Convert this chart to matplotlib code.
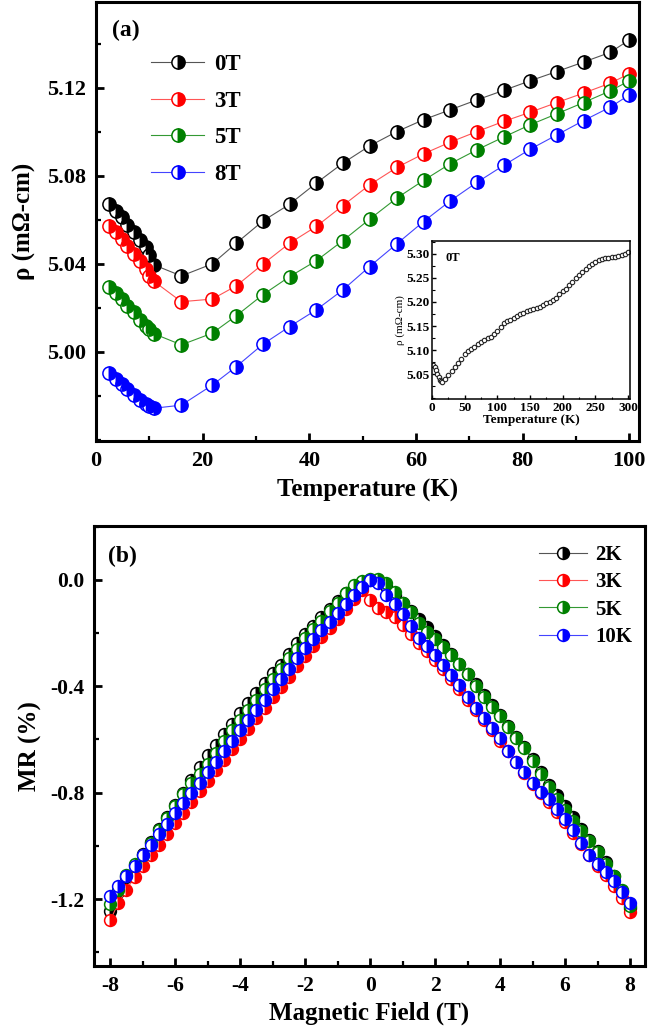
import numpy as np
import matplotlib
matplotlib.use('Agg')
import matplotlib.pyplot as plt
from matplotlib.ticker import MultipleLocator, FixedLocator, FormatStrFormatter

# ---- panel (a): resistivity vs temperature ----
temp_a = [2.4, 3.7, 4.8, 5.9, 7.1, 8.2, 9.3, 10.0, 10.9, 16.0, 21.8, 26.3, 31.3, 36.3,
          41.3, 46.3, 51.3, 56.4, 61.4, 66.4, 71.4, 76.4, 81.4, 86.4, 91.4, 96.4, 100.0]
rho_0T = [5.0673, 5.0642, 5.0612, 5.0577, 5.0544, 5.0509, 5.0476, 5.0440, 5.0395, 5.0345,
          5.0400, 5.0494, 5.0595, 5.0671, 5.0767, 5.0858, 5.0936, 5.1001, 5.1055, 5.1100,
          5.1145, 5.1188, 5.1232, 5.1274, 5.1317, 5.1361, 5.1418]
rho_3T = [5.0574, 5.0544, 5.0512, 5.0479, 5.0444, 5.0411, 5.0376, 5.0345, 5.0320, 5.0228,
          5.0240, 5.0300, 5.0399, 5.0494, 5.0570, 5.0665, 5.0759, 5.0838, 5.0900, 5.0953,
          5.1001, 5.1047, 5.1089, 5.1133, 5.1176, 5.1221, 5.1264]
rho_5T = [5.0294, 5.0267, 5.0241, 5.0209, 5.0179, 5.0145, 5.0118, 5.0103, 5.0082, 5.0032,
          5.0085, 5.0164, 5.0260, 5.0342, 5.0414, 5.0506, 5.0603, 5.0699, 5.0779, 5.0855,
          5.0918, 5.0976, 5.1032, 5.1082, 5.1133, 5.1186, 5.1232]
rho_8T = [4.9903, 4.9876, 4.9853, 4.9830, 4.9805, 4.9782, 4.9761, 4.9752, 4.9744, 4.9758,
          4.9849, 4.9933, 5.0035, 5.0115, 5.0191, 5.0282, 5.0388, 5.0491, 5.0592, 5.0686,
          5.0770, 5.0847, 5.0921, 5.0986, 5.1051, 5.1112, 5.1168]
labels_a = ['0T', '3T', '5T', '8T']
yticks_a = [5.00, 5.04, 5.08, 5.12]

# inset: 0T over the full range
temp_in = [2, 4, 6, 8, 10, 12, 14, 16, 20, 25, 30, 35, 40, 45, 50, 55, 60, 65, 70, 75, 80,
           85, 90, 95, 100, 105, 110, 115, 120, 125, 130, 135, 140, 145, 150, 155, 160, 165,
           170, 175, 180, 185, 190, 195, 200, 205, 210, 215, 220, 225, 230, 235, 240, 245,
           250, 255, 260, 265, 270, 275, 280, 285, 290, 295, 300]
rho_in = [5.068, 5.064, 5.058, 5.050, 5.043, 5.038, 5.035, 5.034, 5.040, 5.048, 5.056, 5.064,
          5.073, 5.082, 5.092, 5.098, 5.103, 5.107, 5.112, 5.116, 5.120, 5.124, 5.128, 5.133,
          5.140, 5.148, 5.156, 5.160, 5.163, 5.167, 5.171, 5.175, 5.178, 5.181, 5.183, 5.186,
          5.188, 5.190, 5.193, 5.197, 5.200, 5.204, 5.209, 5.216, 5.222, 5.228, 5.235, 5.242,
          5.249, 5.256, 5.263, 5.269, 5.274, 5.279, 5.284, 5.288, 5.290, 5.291, 5.292, 5.293,
          5.293, 5.295, 5.297, 5.300, 5.304]
yticks_in = [5.05, 5.10, 5.15, 5.20, 5.25, 5.30]

# ---- panel (b): magnetoresistance vs field ----
field = [-8.0, -7.75, -7.5, -7.25, -7.0, -6.75, -6.5, -6.25, -6.0, -5.75, -5.5, -5.25,
         -5.0, -4.75, -4.5, -4.25, -4.0, -3.75, -3.5, -3.25, -3.0, -2.75, -2.5, -2.25,
         -2.0, -1.75, -1.5, -1.25, -1.0, -0.75, -0.5, -0.25, 0.0,
         0.25, 0.5, 0.75, 1.0, 1.25, 1.5, 1.75, 2.0, 2.25, 2.5, 2.75, 3.0, 3.25, 3.5,
         3.75, 4.0, 4.25, 4.5, 4.75, 5.0, 5.25, 5.5, 5.75, 6.0, 6.25, 6.5, 6.75, 7.0,
         7.25, 7.5, 7.75, 8.0]
mr_2K = [-1.245, -1.175, -1.118, -1.072, -1.030, -0.985, -0.938, -0.892, -0.846, -0.800,
         -0.752, -0.705, -0.660, -0.620, -0.580, -0.540, -0.502, -0.464, -0.425, -0.388,
         -0.350, -0.318, -0.280, -0.236, -0.205, -0.172, -0.140, -0.108, -0.078, -0.050,
         -0.025, -0.008, 0.000,
         -0.005, -0.022, -0.055, -0.085, -0.115, -0.145, -0.178, -0.212, -0.245, -0.280,
         -0.315, -0.352, -0.392, -0.432, -0.470, -0.508, -0.548, -0.590, -0.630, -0.672,
         -0.722, -0.770, -0.810, -0.850, -0.892, -0.935, -0.978, -1.020, -1.060, -1.112,
         -1.170, -1.235]
mr_3K = [-1.280, -1.215, -1.165, -1.118, -1.075, -1.035, -0.995, -0.955, -0.915, -0.875,
         -0.835, -0.795, -0.755, -0.716, -0.676, -0.637, -0.598, -0.560, -0.520, -0.482,
         -0.442, -0.404, -0.365, -0.325, -0.286, -0.250, -0.215, -0.180, -0.145, -0.108,
         -0.070, -0.038, -0.075,
         -0.105, -0.122, -0.140, -0.170, -0.205, -0.238, -0.268, -0.300, -0.335, -0.372,
         -0.410, -0.450, -0.490, -0.528, -0.566, -0.605, -0.645, -0.686, -0.726, -0.766,
         -0.800, -0.835, -0.872, -0.910, -0.950, -0.992, -1.035, -1.075, -1.110, -1.150,
         -1.195, -1.250]
mr_5K = [-1.220, -1.165, -1.108, -1.070, -1.034, -0.988, -0.940, -0.896, -0.850, -0.805,
         -0.762, -0.728, -0.693, -0.650, -0.605, -0.566, -0.528, -0.490, -0.450, -0.410,
         -0.372, -0.334, -0.295, -0.258, -0.220, -0.186, -0.153, -0.118, -0.085, -0.050,
         -0.018, -0.002, 0.005,
         0.002, -0.012, -0.045, -0.085, -0.122, -0.160, -0.194, -0.222, -0.252, -0.283,
         -0.315, -0.355, -0.398, -0.441, -0.478, -0.510, -0.552, -0.594, -0.632, -0.680,
         -0.730, -0.778, -0.825, -0.866, -0.905, -0.944, -0.982, -1.025, -1.070, -1.115,
         -1.165, -1.228]
mr_10K = [-1.190, -1.152, -1.113, -1.075, -1.035, -0.996, -0.957, -0.918, -0.878, -0.840,
          -0.800, -0.762, -0.722, -0.684, -0.644, -0.606, -0.566, -0.528, -0.488, -0.450,
          -0.410, -0.372, -0.333, -0.295, -0.257, -0.222, -0.190, -0.158, -0.125, -0.092,
          -0.058, -0.025, 0.000,
          -0.010, -0.055, -0.092, -0.128, -0.175, -0.218, -0.248, -0.282, -0.320, -0.356,
          -0.396, -0.440, -0.480, -0.518, -0.555, -0.596, -0.642, -0.684, -0.724, -0.764,
          -0.797, -0.825, -0.860, -0.898, -0.940, -0.988, -1.035, -1.068, -1.098, -1.134,
          -1.172, -1.214]
labels_b = ['2K', '3K', '5K', '10K']

colors = ['#000000', '#FF0000', '#008000', '#0000FF']
line_colors = ['#555555', '#FF5555', '#339933', '#4444FF']

plt.rcParams['font.family'] = ['Liberation Serif', 'DejaVu Serif']
plt.rcParams['font.weight'] = 'bold'
plt.rcParams['axes.labelweight'] = 'bold'
plt.rcParams['axes.linewidth'] = 2.2
plt.rcParams['axes.unicode_minus'] = False

# half-filled circles: white on the left, coloured on the right
HALF = 'left'

fig = plt.figure(figsize=(6.49, 10.33), dpi=100)
ax1 = fig.add_axes([96 / 649, 1 - 441 / 1033, 543 / 649, 439 / 1033])
ax2 = fig.add_axes([94 / 649, 1 - 966 / 1033, 551 / 649, 440 / 1033])


def style_axis(ax, size):
    ax.tick_params(which='both', direction='in', top=False, right=False,
                   labelsize=size, pad=7)
    ax.tick_params(which='major', length=6, width=2)
    ax.tick_params(which='minor', length=3.5, width=1.6)
    for lab in ax.get_xticklabels() + ax.get_yticklabels():
        lab.set_fontweight('bold')


# panel (a)
for y, lab, c, lc in zip([rho_0T, rho_3T, rho_5T, rho_8T], labels_a, colors, line_colors):
    ax1.plot(temp_a, y, '-o', color=lc, lw=0.8, ms=9.5, mec=c, mfc='white',
             mfcalt=c, fillstyle=HALF, mew=1.1, label=lab)
ax1.set_xlim(0, 101.8)
ax1.set_ylim(4.9595, 5.159)
ax1.xaxis.set_major_locator(MultipleLocator(20))
ax1.xaxis.set_minor_locator(MultipleLocator(10))
ax1.yaxis.set_major_locator(FixedLocator(yticks_a))
ax1.yaxis.set_minor_locator(MultipleLocator(0.02))
ax1.yaxis.set_major_formatter(FormatStrFormatter('%.2f'))
style_axis(ax1, 16)
ax1.set_xlabel('Temperature (K)', fontsize=18, labelpad=6)
ax1.set_ylabel('ρ (mΩ-cm)', fontsize=18, labelpad=8)
ax1.text(0.03, 0.96, '(a)', transform=ax1.transAxes, fontsize=17,
         fontweight='bold', va='top', ha='left')
ax1.legend(loc='upper left', bbox_to_anchor=(0.085, 0.902), frameon=False,
           fontsize=16.5, numpoints=1, handlelength=2.3, handletextpad=0.45,
           labelspacing=0.68, borderaxespad=0)

# inset
axin = fig.add_axes([432 / 649, 1 - 399 / 1033, 198 / 649, 158 / 1033])
axin.plot(temp_in, rho_in, 'o', ms=3.2, mfc='white', mec='#222222', mew=0.8)
axin.set_xlim(0, 303)
axin.set_ylim(4.998, 5.327)
axin.xaxis.set_major_locator(MultipleLocator(50))
axin.xaxis.set_minor_locator(MultipleLocator(25))
axin.yaxis.set_major_locator(FixedLocator(yticks_in))
axin.yaxis.set_minor_locator(MultipleLocator(0.025))
axin.yaxis.set_major_formatter(FormatStrFormatter('%.2f'))
for s in axin.spines.values():
    s.set_linewidth(1.1)
axin.tick_params(which='both', direction='in', top=False, right=False,
                 labelsize=9.5, pad=2)
axin.tick_params(which='major', length=3, width=1)
axin.tick_params(which='minor', length=1.8, width=0.8)
axin.set_xlabel('Temperature (K)', fontsize=9.5, labelpad=0)
axin.set_ylabel('ρ (mΩ-cm)', fontsize=8, fontweight='normal', labelpad=1)
axin.text(0.07, 0.93, '0T', transform=axin.transAxes, fontsize=9,
          fontweight='bold', va='top', ha='left')

# panel (b)
for y, lab, c, lc in zip([mr_2K, mr_3K, mr_5K, mr_10K], labels_b, colors, line_colors):
    ax2.plot(field, y, '-o', color=lc, lw=0.8, ms=8.5, mec=c, mfc='white',
             mfcalt=c, fillstyle=HALF, mew=1.1, label=lab)
ax2.set_xlim(-8.5, 8.46)
ax2.set_ylim(-1.452, 0.203)
ax2.xaxis.set_major_locator(MultipleLocator(2))
ax2.xaxis.set_minor_locator(MultipleLocator(1))
ax2.yaxis.set_major_locator(MultipleLocator(0.4))
ax2.yaxis.set_minor_locator(MultipleLocator(0.2))
ax2.yaxis.set_major_formatter(FormatStrFormatter('%.1f'))
style_axis(ax2, 15.5)
ax2.set_xlabel('Magnetic Field (T)', fontsize=18, labelpad=4)
ax2.set_ylabel('MR (%)', fontsize=18, labelpad=6)
ax2.text(0.025, 0.955, '(b)', transform=ax2.transAxes, fontsize=17,
         fontweight='bold', va='top', ha='left')
ax2.legend(loc='upper right', bbox_to_anchor=(1.0, 0.985), frameon=False,
           fontsize=15, numpoints=1, handlelength=2.3, handletextpad=0.4,
           labelspacing=0.35, borderaxespad=0.2)

fig.savefig('out.png', dpi=100)
